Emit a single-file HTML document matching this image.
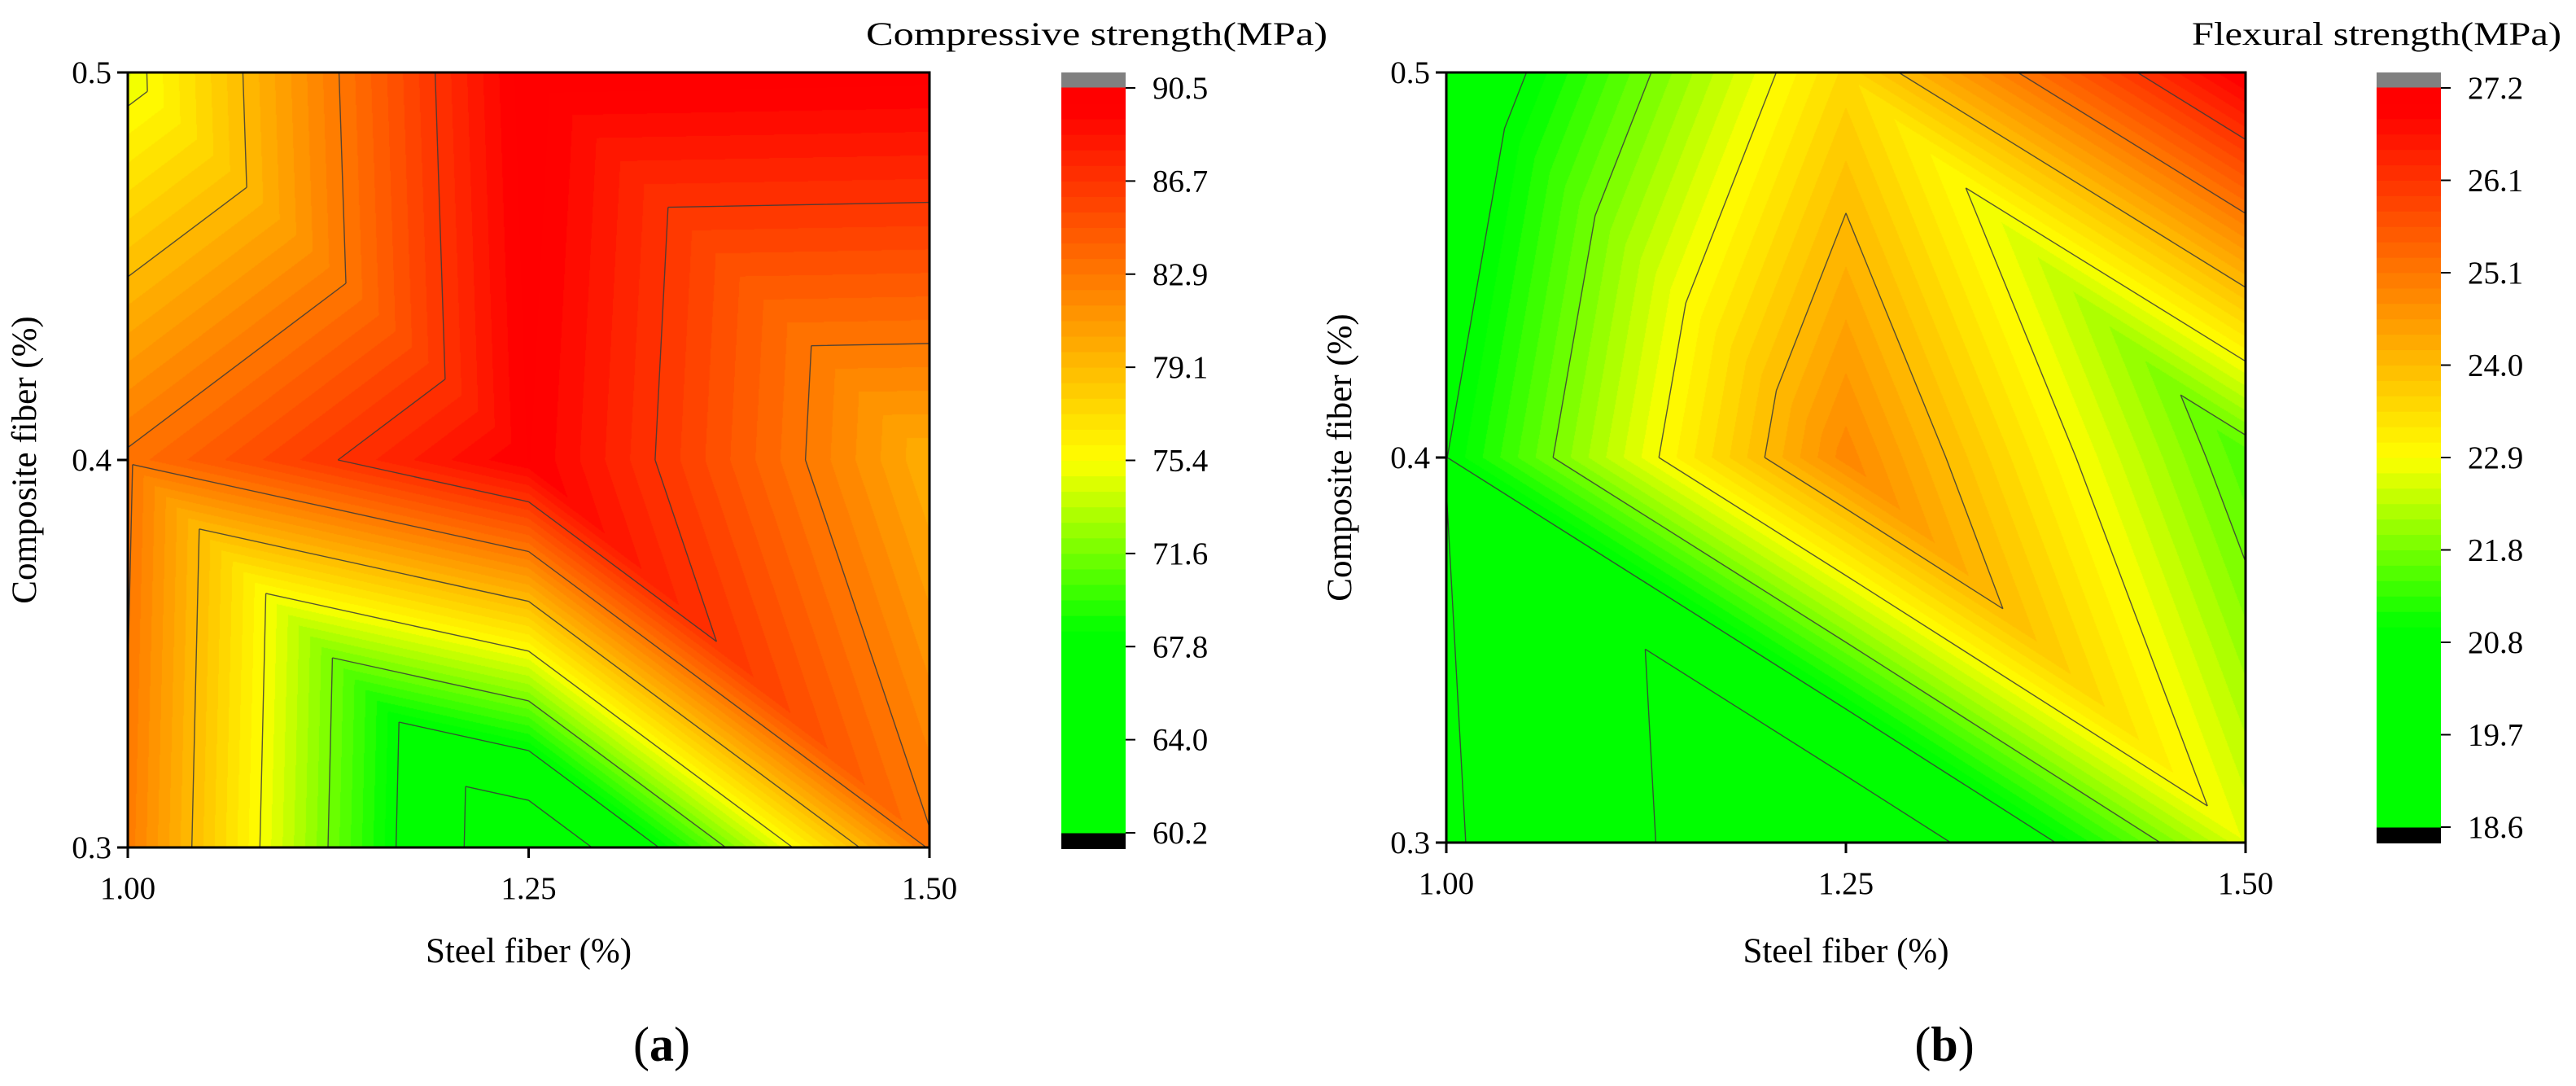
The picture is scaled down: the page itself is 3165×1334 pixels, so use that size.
<!DOCTYPE html>
<html><head><meta charset="utf-8"><style>
html,body{margin:0;padding:0;background:#fff;font-family:"Liberation Serif",serif;}
#root{position:relative;width:3165px;height:1334px;overflow:hidden;background:#fff;}
canvas{position:absolute;}
svg{position:absolute;left:0;top:0;font-family:"Liberation Serif",serif;}
svg text{font-family:"Liberation Serif",serif !important;fill:#000;}
</style></head><body>
<div id="root">
<canvas id="cA"></canvas>
<canvas id="cB"></canvas>
<svg id="svg" width="3165" height="1334" font-family="Liberation Serif, serif"></svg>
</div>
<script>
// ---- data ----
const steelFiber = [1.00, 1.25, 1.50];
const compositeFiber = [0.3, 0.4, 0.5];
// rows by composite fiber (0.3, 0.4, 0.5), columns by steel fiber
const compressiveRow03 = [82.7, 60.4, 83.1];
const compressiveRow04 = [83.2, 89.9, 79.8];
const compressiveRow05 = [74.6, 90.4, 90.2];
const flexuralRow03 = [20.86, 18.6, 22.7];
const flexuralRow04 = [20.74, 24.8, 21.5];
const flexuralRow05 = [20.06, 23.5, 27.1];
const xTickLabels = ["1.00", "1.25", "1.50"];
const yTickLabels = ["0.3", "0.4", "0.5"];
const compressiveBarLabels = ["60.2","64.0","67.8","71.6","75.4","79.1","82.9","86.7","90.5"];
const flexuralBarLabels = ["18.6","19.7","20.8","21.8","22.9","24.0","25.1","26.1","27.2"];
const compressiveRange = [60.2, 90.5];
const flexuralRange = [18.6, 27.2];

const NS = "http://www.w3.org/2000/svg";
const svg = document.getElementById('svg');
function mk(tag, attrs, parent){
  const e = document.createElementNS(NS, tag);
  for (const k in attrs) e.setAttribute(k, attrs[k]);
  if (tag === 'text') e.setAttribute('font-family', 'Liberation Serif, serif');
  (parent||svg).appendChild(e);
  return e;
}
function cmap(t){
  let r,g,b=0;
  if (t<=0.27){r=0;g=255;}
  else if (t<=0.5){r=Math.round(255*(t-0.27)/0.23);g=255;}
  else if (t<=0.97){r=255;g=Math.round(255*(1-(t-0.5)/0.47));}
  else {r=255;g=0;}
  return [r,g,b];
}
const NB = 48;
function valAt(Z, x, y){
  let i = Math.min(1, Math.max(0, Math.floor((x-steelFiber[0])/(steelFiber[1]-steelFiber[0]))));
  let j = Math.min(1, Math.max(0, Math.floor((y-compositeFiber[0])/(compositeFiber[1]-compositeFiber[0]))));
  const u=(x-steelFiber[i])/(steelFiber[i+1]-steelFiber[i]);
  const w=(y-compositeFiber[j])/(compositeFiber[j+1]-compositeFiber[j]);
  const v00=Z[j][i], v10=Z[j][i+1], v01=Z[j+1][i], v11=Z[j+1][i+1];
  if (u+w<=1) return v00+u*(v10-v00)+w*(v01-v00);
  return v11+(1-u)*(v01-v11)+(1-w)*(v10-v11);
}
function drawPanel(cfg){
  const Z=[cfg.r3,cfg.r4,cfg.r5];
  const [mn,mx]=cfg.range; const step=(mx-mn)/NB;
  const L=cfg.L,R=cfg.R,T=cfg.T,B=cfg.B;
  const sx=v=>L+(v-steelFiber[0])/(steelFiber[2]-steelFiber[0])*(R-L);
  const sy=v=>B-(v-compositeFiber[0])/(compositeFiber[2]-compositeFiber[0])*(B-T);
  const cv=document.getElementById(cfg.canvas);
  const W=R-L,H=B-T;
  cv.width=W;cv.height=H;cv.style.left=L+'px';cv.style.top=T+'px';
  const ctx=cv.getContext('2d');const img=ctx.createImageData(W,H);
  for(let py=0;py<H;py++){
    const dy=compositeFiber[2]-(py+0.5)/H*(compositeFiber[2]-compositeFiber[0]);
    for(let px=0;px<W;px++){
      const dx=steelFiber[0]+(px+0.5)/W*(steelFiber[2]-steelFiber[0]);
      const v=valAt(Z,dx,dy);
      let k=Math.floor((v-mn)/step);k=Math.max(0,Math.min(NB-1,k));
      const c=cmap((k+0.5)/NB);const o=(py*W+px)*4;
      img.data[o]=c[0];img.data[o+1]=c[1];img.data[o+2]=c[2];img.data[o+3]=255;
    }
  }
  ctx.putImageData(img,0,0);
  const levels=[];for(let k=1;k<8;k++)levels.push(mn+k*(mx-mn)/8);
  let d='';
  const tris=[];
  for(let i=0;i<2;i++)for(let j=0;j<2;j++){
    const p00=[steelFiber[i],compositeFiber[j],Z[j][i]],p10=[steelFiber[i+1],compositeFiber[j],Z[j][i+1]],
      p01=[steelFiber[i],compositeFiber[j+1],Z[j+1][i]],p11=[steelFiber[i+1],compositeFiber[j+1],Z[j+1][i+1]];
    tris.push([p00,p10,p01]);tris.push([p11,p01,p10]);
  }
  levels.forEach(lv=>{
    tris.forEach(tr=>{
      const pts=[];
      for(let a=0;a<3;a++){const p=tr[a],q=tr[(a+1)%3];
        if((p[2]-lv)*(q[2]-lv)<0){const f=(lv-p[2])/(q[2]-p[2]);pts.push([p[0]+f*(q[0]-p[0]),p[1]+f*(q[1]-p[1])]);}}
      if(pts.length===2)d+='M'+sx(pts[0][0]).toFixed(1)+' '+sy(pts[0][1]).toFixed(1)+'L'+sx(pts[1][0]).toFixed(1)+' '+sy(pts[1][1]).toFixed(1);
    });
  });
  const cl=mk('path',{d:d,fill:'none',stroke:'#3a3a3a','stroke-width':1.4,'stroke-opacity':0.85});
  
  
  const fr=mk('rect',{x:L,y:T,width:W,height:H,fill:'none',stroke:'#000','stroke-width':3});
  
  
  steelFiber.forEach((v,k)=>{
    mk('line',{x1:sx(v),x2:sx(v),y1:B,y2:B+13,stroke:'#000','stroke-width':3});
    const t=mk('text',{x:sx(v),y:B+63,'font-size':39,'text-anchor':'middle'});t.textContent=xTickLabels[k];
    
    
  });
  compositeFiber.forEach((v,k)=>{
    mk('line',{x1:L-13,x2:L,y1:sy(v),y2:sy(v),stroke:'#000','stroke-width':3});
    const t=mk('text',{x:L-20,y:sy(v)+13,'font-size':39,'text-anchor':'end'});t.textContent=yTickLabels[k];
    
    
  });
  const xl=mk('text',{x:(L+R)/2,y:1182,'font-size':43,'text-anchor':'middle'});xl.textContent='Steel fiber (%)';
  
  
  const yl=mk('text',{x:0,y:0,'font-size':43,'text-anchor':'middle',transform:'translate('+(cfg.ylx)+','+((T+B)/2)+') rotate(-90)'});yl.textContent='Composite fiber (%)';
  
  
  const cL=cfg.cbL,cR=cfg.cbR,cT=cfg.cbT,cB=cfg.cbB;
  const gray=mk('rect',{x:cL,y:cT,width:cR-cL,height:19,fill:'#808080'});
  
  
  const blk=mk('rect',{x:cL,y:cB-20,width:cR-cL,height:20,fill:'#000'});
  
  
  const bT=cT+19,bB=cB-20,bh=(bB-bT)/NB;
  for(let k=0;k<NB;k++){
    const c=cmap((k+0.5)/NB);
    const r=mk('rect',{x:cL,y:bB-(k+1)*bh-0.5,width:cR-cL,height:bh+1,fill:'rgb('+c.join(',')+')'});
    
    
  }
  cfg.labels.forEach((lab,k)=>{
    const y=bB-k*(bB-bT)/8;
    mk('line',{x1:cR,x2:cR+12,y1:y,y2:y,stroke:'#000','stroke-width':2});
    const t=mk('text',{x:cR+33,y:y+13,'font-size':39});t.textContent=lab;
    
    
  });
  const ct=mk('text',{x:cfg.titleX,y:55,'font-size':40,textLength:cfg.titleW,lengthAdjust:'spacingAndGlyphs'});ct.textContent=cfg.title;
  
  
  const cap=mk('text',{x:cfg.capX,y:1303,'font-size':60,'text-anchor':'middle'});
  cap.innerHTML='(<tspan font-weight="bold">'+cfg.cap+'</tspan>)';
  
  
}
drawPanel({id:'compressive',canvas:'cA',r3:compressiveRow03,r4:compressiveRow04,r5:compressiveRow05,range:compressiveRange,
  L:157,R:1142,T:89,B:1041,ylx:44,cbL:1304,cbR:1383,cbT:89,cbB:1043,labels:compressiveBarLabels,
  title:'Compressive strength(MPa)',titleX:1064,titleW:567,cap:'a',capX:813});
drawPanel({id:'flexural',canvas:'cB',r3:flexuralRow03,r4:flexuralRow04,r5:flexuralRow05,range:flexuralRange,
  L:1777,R:2759,T:89,B:1035,ylx:1660,cbL:2920,cbR:2999,cbT:89,cbB:1036,labels:flexuralBarLabels,
  title:'Flexural strength(MPa)',titleX:2693,titleW:454,cap:'b',capX:2389});
</script>
</body></html>
